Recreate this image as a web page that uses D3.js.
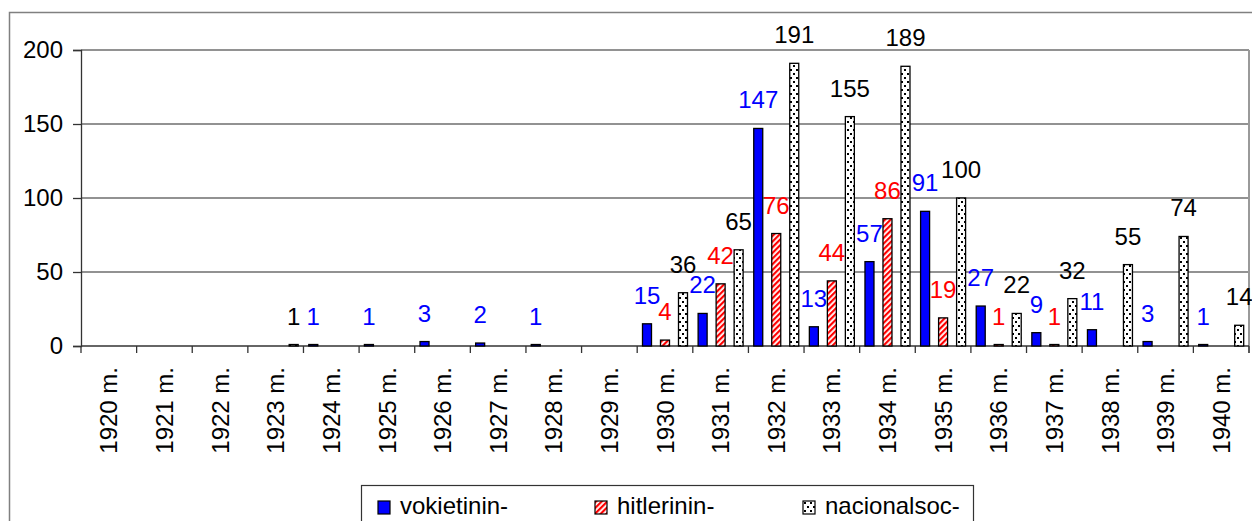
<!DOCTYPE html>
<html>
<head>
<meta charset="utf-8">
<script src="https://cdn.jsdelivr.net/npm/d3@7"></script>
<style>
  body { margin: 0; background: #fff; }
  svg { display: block; font-family: "Liberation Sans", Arial, sans-serif; }
</style>
</head>
<body>
<div id="chart"></div>
<script>
// categories and series
var years = ["1920 m.", "1921 m.", "1922 m.", "1923 m.", "1924 m.", "1925 m.", "1926 m.",
             "1927 m.", "1928 m.", "1929 m.", "1930 m.", "1931 m.", "1932 m.", "1933 m.",
             "1934 m.", "1935 m.", "1936 m.", "1937 m.", "1938 m.", "1939 m.", "1940 m."];
var vokietinin = [null, null, null, null, 1, 1, 3, 2, 1, null, 15, 22, 147, 13, 57, 91, 27, 9, 11, 3, 1];
var hitlerinin = [null, null, null, null, null, null, null, null, null, null, 4, 42, 76, 44, 86, 19, 1, 1, null, null, null];
var nacionalsoc = [null, null, null, 1, null, null, null, null, null, null, 36, 65, 191, 155, 189, 100, 22, 32, 55, 74, 14];
var seriesNames = ["vokietinin-", "hitlerinin-", "nacionalsoc-"];
var yTicks = [0, 50, 100, 150, 200];

function init() {
    var W = 1252, H = 521;
    var plot = {left: 81, right: 1249, top: 50, bottom: 346};
    var fontSize = "24px";

    var svg = d3.select("#chart").append("svg")
        .attr("width", W)
        .attr("height", H);

    var defs = svg.append("defs");

    // red diagonal hatch
    var hatch = defs.append("pattern")
        .attr("id", "hatch")
        .attr("patternUnits", "userSpaceOnUse")
        .attr("width", 4).attr("height", 4)
        .attr("patternTransform", "rotate(45)");
    hatch.append("rect").attr("width", 4).attr("height", 4).attr("fill", "#fff");
    hatch.append("rect").attr("width", 2.2).attr("height", 4).attr("fill", "#ff0000");

    // dotted fill
    var dots = defs.append("pattern")
        .attr("id", "dots")
        .attr("patternUnits", "userSpaceOnUse")
        .attr("width", 6).attr("height", 8);
    dots.append("rect").attr("width", 6).attr("height", 8).attr("fill", "#fff");
    dots.append("rect").attr("x", 1).attr("y", 1).attr("width", 2).attr("height", 2).attr("fill", "#000");
    dots.append("rect").attr("x", 4).attr("y", 5).attr("width", 2).attr("height", 2).attr("fill", "#000");

    var fills = ["#0000ff", "url(#hatch)", "url(#dots)"];
    var labelColors = ["#0000ff", "#ff0000", "#000000"];
    var seriesData = [vokietinin, hitlerinin, nacionalsoc];

    // outer chart border
    svg.append("rect")
        .attr("x", 9.5).attr("y", 12.5)
        .attr("width", W + 10).attr("height", H + 10)
        .attr("fill", "none")
        .attr("stroke", "#808080")
        .attr("stroke-width", 1.5);

    // scales
    var x0 = d3.scaleBand()
        .domain(years)
        .range([plot.left, plot.right])
        .padding(0);

    var x1 = d3.scaleBand()
        .domain(seriesNames)
        .range([0, 54]);

    var y = d3.scaleLinear()
        .domain([0, 200])
        .range([plot.bottom, plot.top]);

    var barW = 9;
    var inset = (x0.bandwidth() - 54) / 2;

    // gridlines
    svg.append("g")
        .selectAll("line")
        .data(yTicks.filter(d => d > 0))
        .enter().append("line")
        .attr("x1", plot.left).attr("x2", plot.right)
        .attr("y1", d => y(d)).attr("y2", d => y(d))
        .attr("stroke", "#6e6e6e")
        .attr("stroke-width", 1.3);

    // plot area right border
    svg.append("line")
        .attr("x1", plot.right).attr("x2", plot.right)
        .attr("y1", plot.top).attr("y2", plot.bottom + 7)
        .attr("stroke", "#9a9a9a")
        .attr("stroke-width", 2);

    // y axis
    var yAxis = d3.axisLeft(y).tickValues(yTicks).tickSize(8).tickPadding(10);
    var gy = svg.append("g")
        .attr("transform", "translate(" + plot.left + ",0)")
        .call(yAxis);
    gy.select(".domain").attr("stroke", "#333").attr("stroke-width", 1.3);
    gy.selectAll(".tick line").attr("stroke", "#333").attr("stroke-width", 1.3);
    gy.selectAll(".tick text")
        .attr("font-size", fontSize)
        .attr("fill", "#000")
        .attr("font-family", "Liberation Sans, Arial, sans-serif");

    // x axis with ticks at category boundaries
    var gx = svg.append("g");
    gx.append("line")
        .attr("x1", plot.left).attr("x2", plot.right)
        .attr("y1", plot.bottom).attr("y2", plot.bottom)
        .attr("stroke", "#333").attr("stroke-width", 1.3);
    var bounds = years.map(d => x0(d)).concat([x0(years[years.length - 1]) + x0.bandwidth()]);
    gx.selectAll("line.tk")
        .data(bounds)
        .enter().append("line")
        .attr("class", "tk")
        .attr("x1", d => d).attr("x2", d => d)
        .attr("y1", plot.bottom).attr("y2", plot.bottom + 7)
        .attr("stroke", "#333").attr("stroke-width", 1.3);
    gx.selectAll("text")
        .data(years)
        .enter().append("text")
        .attr("transform", d => "translate(" + (x0(d) + x0.bandwidth() / 2) + "," + (plot.bottom + 21) + ") rotate(-90)")
        .attr("dy", "0.36em")
        .attr("text-anchor", "end")
        .attr("font-size", fontSize)
        .attr("fill", "#000")
        .text(d => d);

    // bars and labels
    seriesNames.forEach(function(name, si) {
        var vals = seriesData[si].map((v, i) => ({year: years[i], value: v}))
            .filter(d => d.value !== null && d.value > 0);
        var g = svg.append("g");
        g.selectAll("rect")
            .data(vals)
            .enter().append("rect")
            .attr("x", d => x0(d.year) + inset + x1(name) + (x1.bandwidth() - barW) / 2)
            .attr("y", d => y(d.value))
            .attr("width", barW)
            .attr("height", d => y(0) - y(d.value))
            .attr("fill", fills[si])
            .attr("stroke", "#000")
            .attr("stroke-width", 1.3);
        g.selectAll("text")
            .data(vals)
            .enter().append("text")
            .attr("x", d => x0(d.year) + inset + x1(name) + x1.bandwidth() / 2)
            .attr("y", d => y(d.value) - 20)
            .attr("text-anchor", "middle")
            .attr("font-size", fontSize)
            .attr("fill", labelColors[si])
            .text(d => d.value);
    });

    // legend
    var legend = svg.append("g");
    legend.append("rect")
        .attr("x", 361.5).attr("y", 485.5)
        .attr("width", 612).attr("height", 60)
        .attr("fill", "#fff")
        .attr("stroke", "#333")
        .attr("stroke-width", 1.2);
    var legendX = [378, 595, 803];
    seriesNames.forEach(function(name, i) {
        var item = legend.append("g")
            .attr("transform", "translate(" + legendX[i] + ",501)");
        item.append("rect")
            .attr("width", 12).attr("height", 13)
            .attr("fill", fills[i])
            .attr("stroke", "#000")
            .attr("stroke-width", 1.2);
        item.append("text")
            .attr("x", 22)
            .attr("y", 13)
            .attr("font-size", fontSize)
            .attr("fill", "#000")
            .text(name);
    });
}

init();
</script>
</body>
</html>
